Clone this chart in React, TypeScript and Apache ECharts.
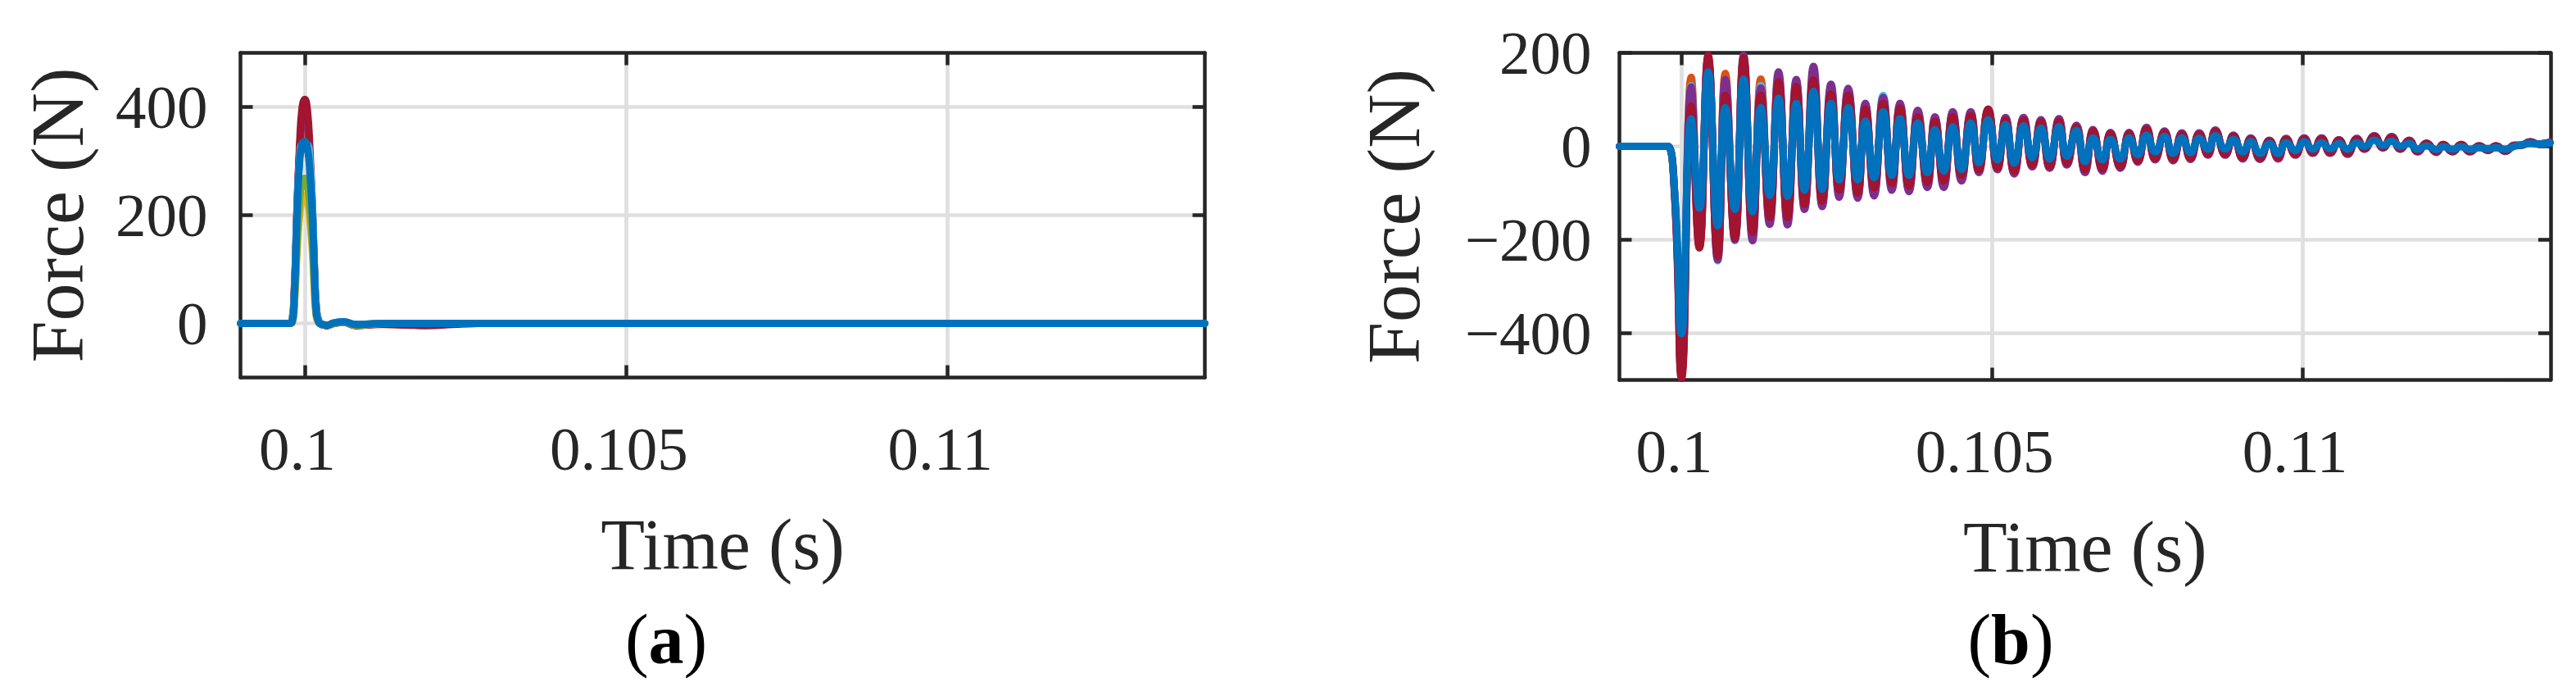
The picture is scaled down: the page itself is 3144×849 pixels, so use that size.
import React, { useEffect, useRef } from "react";
import * as echarts from "echarts";

// ---------------- Data: panel (a) ----------------
const tA = [0.099, 0.09975, 0.0998, 0.09984, 0.09988, 0.09992, 0.09996, 0.1, 0.10004, 0.10008, 0.10012, 0.10015, 0.10018, 0.10022, 0.10028, 0.10035, 0.10045, 0.1006, 0.1008, 0.1012, 0.1016, 0.1019, 0.1023, 0.1027, 0.114];
const aOrange = [0, 0, 4, 70, 215, 315, 360, 368, 355, 295, 205, 105, 30, 5, -2, -4, 0, 2, -3, -2, -3, -3, -1, 0, 0];
const aPurple = [0, 0, 2, 62, 205, 320, 380, 392, 375, 305, 200, 95, 22, 3, -3, -4, 0, 2, -4, -1, -2, -3, -1, 0, 0];
const aRed = [0, 0, 2, 65, 210, 330, 400, 414, 395, 320, 210, 100, 25, 3, -3, -4, 0, 2, -4, -1, -3, -4, -2, 0, 0];
const aLightBlue = [0, 0, 3, 66, 210, 305, 330, 328, 330, 300, 215, 105, 28, 4, -2, -3, 1, 3, -2, 0, 0, 0, 0, 0, 0];
const aYellow = [0, 0, 1, 40, 130, 200, 230, 236, 228, 190, 130, 60, 12, 1, -2, -3, 0, 2, -3, 0, 0, 0, 0, 0, 0];
const aGreen = [0, 0, 1, 45, 150, 230, 262, 268, 258, 215, 150, 70, 15, 1, -2, -3, 0, 2, -3, 0, 0, 0, 0, 0, 0];
const aBlue = [0, 0, 2, 60, 200, 300, 332, 336, 325, 280, 195, 95, 20, 2, -2, -3, 1, 3, -2, 0, 0, 0, 0, 0, 0];

// ---------------- Data: panel (b) ----------------
const tB = [
  0.099, 0.09972, 0.09978, 0.09989,
  0.1, 0.100156, 0.100288, 0.100429, 0.100583, 0.100706, 0.10086, 0.1010, 0.101145, 0.101277,
  0.10142, 0.101563, 0.101708, 0.101849, 0.101981, 0.102126, 0.102267, 0.102408, 0.10254, 0.102685,
  0.102839, 0.102962, 0.103103, 0.103248, 0.103388, 0.10352, 0.103665, 0.103806, 0.10396, 0.104083,
  0.104224, 0.104369, 0.10451,
  0.10466, 0.10479, 0.10494, 0.10509, 0.10522, 0.10536, 0.10551, 0.10565, 0.10579, 0.10593,
  0.10608, 0.10621, 0.10636, 0.1065, 0.10663, 0.10678, 0.10691, 0.10707, 0.10721, 0.10735,
  0.10749, 0.10763, 0.10778, 0.10792, 0.10806, 0.1082, 0.10834, 0.10848, 0.1086, 0.10876,
  0.10889, 0.10904, 0.10917, 0.10932, 0.10947, 0.10961, 0.10974, 0.10989, 0.11003, 0.11017,
  0.11031, 0.11045, 0.11059, 0.11073, 0.11088, 0.111, 0.11116, 0.1113, 0.11144, 0.11158,
  0.11172, 0.11186, 0.112, 0.11216, 0.11227, 0.11242, 0.11256, 0.1127, 0.11285, 0.11299,
  0.11312, 0.11327, 0.11342, 0.11352, 0.11367, 0.1138, 0.11399,
];
const bOrange = [
  0, 0, 0, -100,
  -480, 148, -217, 185, -238, 156, -195, 185, -190, 144,
  -158, 145, -158, 135, -128, 150, -120, 120, -100, 115,
  -104, 85, -95, 98, -85, 86, -90, 70, -82, 58,
  -80, 68, -68,
  70, -52, 76, -48, 58, -56, 58, -42, 54, -45,
  56, -38, 43, -52, 34, -50, 28, -45, 28, -32,
  39, -27, 31, -29, 27, -26, 27, -18, 33, -18,
  23, -25, 17, -26, 12, -25, 16, -18, 17, -14,
  17, -14, 13, -16, 16, -6, 22, -3, 20, -6,
  12, -11, 6, -12, 4, -11, 4, -11, 1, -8,
  1, -10, 2, 2, 9, 5, 8,
];
const bLightBlue = [
  0, 0, 0, -100,
  -485, 130, -210, 188, -245, 140, -202, 188, -195, 130,
  -160, 150, -160, 138, -130, 158, -125, 128, -105, 120,
  -108, 90, -100, 109, -90, 88, -93, 74, -85, 60,
  -84, 70, -70,
  72, -54, 77, -49, 60, -57, 60, -43, 55, -46,
  57, -39, 44, -54, 35, -51, 29, -46, 29, -33,
  40, -28, 32, -30, 28, -27, 28, -18, 34, -18,
  23, -26, 17, -27, 12, -26, 16, -18, 17, -14,
  17, -14, 13, -16, 16, -6, 22, -3, 20, -6,
  12, -11, 6, -12, 4, -11, 4, -11, 1, -8,
  1, -10, 2, 2, 9, 5, 8,
];
const bPurple = [
  0, 0, 0, -105,
  -490, 127, -212, 190, -243, 143, -200, 195, -202, 125,
  -167, 159, -168, 143, -135, 171, -129, 133, -109, 124,
  -111, 92, -106, 105, -94, 92, -97, 77, -88, 63,
  -88, 74, -74,
  74, -56, 78, -50, 62, -59, 62, -44, 57, -47,
  59, -40, 45, -56, 36, -53, 30, -47, 30, -34,
  41, -29, 33, -31, 29, -28, 29, -19, 35, -19,
  24, -27, 18, -28, 13, -27, 17, -19, 18, -15,
  18, -15, 14, -17, 17, -6, 23, -3, 21, -6,
  13, -12, 7, -13, 4, -12, 4, -12, 1, -9,
  1, -11, 2, 2, 10, 5, 9,
];
const bRed = [
  0, 0, 0, -110,
  -497, 86, -217, 195, -235, 109, -197, 190, -184, 109,
  -152, 138, -152, 128, -124, 142, -117, 112, -94, 109,
  -100, 80, -89, 92, -80, 82, -85, 63, -77, 54,
  -74, 63, -62,
  66, -50, 80, -46, 56, -54, 56, -40, 52, -43,
  54, -36, 41, -50, 33, -48, 27, -43, 27, -31,
  37, -26, 30, -28, 26, -25, 26, -17, 32, -17,
  22, -24, 16, -25, 12, -24, 15, -17, 16, -13,
  16, -13, 13, -15, 15, -5, 21, -3, 19, -5,
  12, -11, 6, -12, 4, -11, 4, -11, 1, -8,
  1, -10, 2, 2, 9, 5, 8,
];
const bBlue = [
  0, 0, 0, -100,
  -401, 59, -132, 159, -170, 83, -135, 144, -140, 83,
  -105, 103, -107, 92, -94, 118, -92, 92, -72, 83,
  -72, 54, -67, 74, -62, 59, -62, 50, -56, 36,
  -53, 42, -50,
  50, -35, 57, -29, 47, -36, 44, -24, 39, -27,
  42, -21, 34, -33, 18, -29, 15, -27, 18, -18,
  24, -12, 21, -15, 18, -13, 17, -6, 23, -6,
  15, -12, 10, -15, 6, -15, 8, -9, 10, -6,
  8, -5, 6, -6, 8, 0, 13, 2, 11, 0,
  6, -6, 1, -7, -1, -6, -1, -6, -3, -5,
  -3, -6, 0, 3, 6, 5, 7,
];

const xTicks = [0.1, 0.105, 0.11];
const yTicksA = [0, 200, 400];
const yTicksB = [-400, -200, 0, 200];

const C = {
  blue: "#0072BD",
  orange: "#D95319",
  yellow: "#EDB120",
  purple: "#7E2F8E",
  green: "#77AC30",
  lightBlue: "#4DBEEE",
  red: "#A2142F",
};

const FONT = '"Liberation Serif", "Times New Roman", Times, serif';
const INK = "#262626";
const GRID = "#dfdfdf";

const zip = (t: number[], v: number[]) => {
  const n = Math.min(t.length, v.length);
  const out: number[][] = [];
  for (let i = 0; i < n; i++) out.push([t[i], v[i]]);
  return out;
};

const fmtX = (v: number) => String(+Number(v).toFixed(4));
const fmtY = (v: number) => (v < 0 ? "\u2212" + Math.abs(v) : String(v));

function xAxisPair(gridIndex: number, labelMargin: number) {
  const line = { show: true, onZero: false, lineStyle: { color: INK, width: 4.5 } };
  const tick = { show: true, inside: true, length: 15, customValues: xTicks, lineStyle: { color: INK, width: 4.5 } };
  return [
    {
      type: "value", gridIndex, position: "bottom", min: 0.099, max: 0.114,
      axisLine: line, axisTick: tick,
      axisLabel: { show: true, customValues: xTicks, formatter: fmtX, margin: labelMargin, color: INK, fontFamily: FONT, fontSize: 75, padding: [0, 18, 0, 0] },
      splitLine: { show: true, lineStyle: { color: GRID, width: 4.7 } },
      name: "Time (s)", nameLocation: "middle", nameGap: 160,
      nameTextStyle: { color: INK, fontFamily: FONT, fontSize: 88 },
    },
    {
      type: "value", gridIndex, position: "top", min: 0.099, max: 0.114,
      axisLine: line, axisTick: tick, axisLabel: { show: false }, splitLine: { show: false },
    },
  ];
}

function yAxisPair(gridIndex: number, min: number, max: number, ticks: number[], labelMargin: number, nameGap: number) {
  const line = { show: true, onZero: false, lineStyle: { color: INK, width: 4.5 } };
  const tick = { show: true, inside: true, length: 15, customValues: ticks, lineStyle: { color: INK, width: 4.5 } };
  return [
    {
      type: "value", gridIndex, position: "left", min, max,
      axisLine: line, axisTick: tick,
      axisLabel: { show: true, customValues: ticks, formatter: fmtY, margin: labelMargin, color: INK, fontFamily: FONT, fontSize: 75 },
      splitLine: { show: true, lineStyle: { color: GRID, width: 4.7 } },
      name: "Force (N)", nameLocation: "middle", nameGap,
      nameTextStyle: { color: INK, fontFamily: FONT, fontSize: 92 },
    },
    {
      type: "value", gridIndex, position: "right", min, max,
      axisLine: line, axisTick: tick, axisLabel: { show: false }, splitLine: { show: false },
    },
  ];
}

function lineSeries(name: string, color: string, data: number[][], xi: number, yi: number) {
  return {
    type: "line", name, data, xAxisIndex: xi, yAxisIndex: yi,
    showSymbol: false, symbol: "none", smooth: 0.5, silent: true,
    lineStyle: { color, width: 9, cap: "round", join: "round" },
  };
}

export default function App() {
  const ref = useRef<HTMLDivElement>(null);
  useEffect(() => {
    if (!ref.current) return;
    const chart = echarts.init(ref.current, undefined, { renderer: "svg" });
    chart.setOption({
      animation: false,
      backgroundColor: "#ffffff",
      grid: [
        { left: 293.5, top: 64.5, width: 1177, height: 396, containLabel: false },
        { left: 1976.5, top: 64.5, width: 1136.5, height: 399, containLabel: false },
      ],
      xAxis: [...xAxisPair(0, 49), ...xAxisPair(1, 49)],
      yAxis: [
        ...yAxisPair(0, -100, 500, yTicksA, 40, 178),
        ...yAxisPair(1, -500, 200, yTicksB, 34, 230),
      ],
      series: [
        lineSeries("a-orange", C.orange, zip(tA, aOrange), 0, 0),
        lineSeries("a-purple", C.purple, zip(tA, aPurple), 0, 0),
        lineSeries("a-red", C.red, zip(tA, aRed), 0, 0),
        lineSeries("a-lightblue", C.lightBlue, zip(tA, aLightBlue), 0, 0),
        lineSeries("a-yellow", C.yellow, zip(tA, aYellow), 0, 0),
        lineSeries("a-green", C.green, zip(tA, aGreen), 0, 0),
        lineSeries("a-blue", C.blue, zip(tA, aBlue), 0, 0),
        lineSeries("b-orange", C.orange, zip(tB, bOrange), 2, 2),
        lineSeries("b-lightblue", C.lightBlue, zip(tB, bLightBlue), 2, 2),
        lineSeries("b-purple", C.purple, zip(tB, bPurple), 2, 2),
        lineSeries("b-red", C.red, zip(tB, bRed), 2, 2),
        lineSeries("b-blue", C.blue, zip(tB, bBlue), 2, 2),
      ],
      graphic: [
        {
          type: "text", x: 813, y: 780,
          style: {
            text: "{p|(}{b|a}{p|)}", textAlign: "center", textVerticalAlign: "middle",
            rich: {
              p: { fontFamily: FONT, fontSize: 86, fill: "#000" },
              b: { fontFamily: FONT, fontSize: 86, fontWeight: "bold", fill: "#000" },
            },
          },
        },
        {
          type: "text", x: 2454, y: 780,
          style: {
            text: "{p|(}{b|b}{p|)}", textAlign: "center", textVerticalAlign: "middle",
            rich: {
              p: { fontFamily: FONT, fontSize: 86, fill: "#000" },
              b: { fontFamily: FONT, fontSize: 86, fontWeight: "bold", fill: "#000" },
            },
          },
        },
      ],
    });
    return () => chart.dispose();
  }, []);
  return <div ref={ref} style={{ position: "absolute", left: 0, top: 0, width: 3144, height: 849 }} />;
}
